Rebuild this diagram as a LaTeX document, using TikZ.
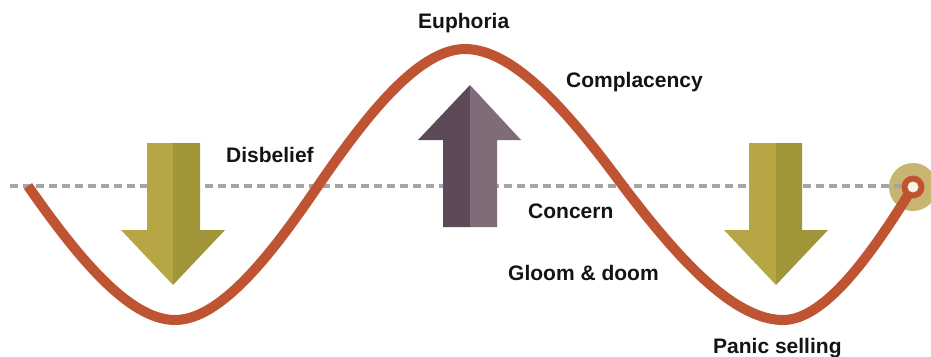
\documentclass[tikz,border=0pt]{standalone}
\usepackage{fontspec}
\setmainfont{Liberation Sans}
\begin{document}
\begin{tikzpicture}[x=1pt,y=-1pt,
  lbl/.style={anchor=base west,inner sep=0pt,font=\fontsize{21}{24}\selectfont\bfseries,text=txt},
  wave/.style={draw=wavec,line width=10pt},
  baseline/.style={draw=dashc,line width=4pt,dash pattern=on 8pt off 5pt}]
\definecolor{wavec}{RGB}{191,84,50}
\definecolor{dashc}{RGB}{165,165,168}
\definecolor{txt}{RGB}{20,20,20}
\definecolor{olivel}{RGB}{182,167,68}
\definecolor{olived}{RGB}{161,149,57}
\definecolor{purpd}{RGB}{93,74,89}
\definecolor{purpl}{RGB}{128,108,120}
\definecolor{tan}{RGB}{200,182,112}
\definecolor{cream}{RGB}{252,244,230}
\useasboundingbox (0,0) rectangle (931,356);
\fill[white] (0,0) rectangle (931,356);
% end marker background
\node[circle,fill=tan,minimum size=48pt,inner sep=0pt] (endo) at (913,187) {};
% dashed baseline
\coordinate (dl) at (10,186);
\coordinate (dr) at (905,186);
\draw[baseline] (dl) -- (dr);
% left down arrow
\fill[olivel] (147,143) -- (173,143) -- (173,285) -- (121,230) -- (147,230) -- cycle;
\fill[olived] (173,143) -- (200,143) -- (200,230) -- (225,230) -- (173,285) -- cycle;
% right down arrow
\fill[olivel] (749,143) -- (776,143) -- (776,285) -- (724,230) -- (749,230) -- cycle;
\fill[olived] (776,143) -- (802,143) -- (802,230) -- (828,230) -- (776,285) -- cycle;
% middle up arrow
\fill[purpd] (443,227) -- (470,227) -- (470,85) -- (418,140) -- (443,140) -- cycle;
\fill[purpl] (470,227) -- (497,227) -- (497,140) -- (521,140) -- (470,85) -- cycle;
% wave
\coordinate (w0) at (28,186);
\coordinate (w1) at (175,320);
\coordinate (w2) at (318,186);
\coordinate (w3) at (465,49);
\coordinate (w4) at (623,186);
\coordinate (w5) at (783,320);
\coordinate (w6) at (913,187);
\draw[wave] (w0) .. controls (75.9,254.6) and (128.2,320) .. (w1)
  .. controls (220.5,320) and (271.4,254.6) .. (w2)
  .. controls (365.9,116.3) and (418.2,49) .. (w3)
  .. controls (515.3,49) and (571.5,116.3) .. (w4)
  .. controls (675.2,254.6) and (732.1,320) .. (w5)
  .. controls (824.7,320) and (871.3,255) .. (w6);
\node[circle,fill=wavec,minimum size=23pt,inner sep=0pt] (endr) at (w6) {};
\node[circle,fill=cream,minimum size=11pt,inner sep=0pt] (endw) at (w6) {};
% labels
\node[lbl] (euph) at (418,28) {Euphoria};
\node[lbl] (comp) at (566,87) {Complacency};
\node[lbl] (disb) at (226,162) {Disbelief};
\node[lbl] (conc) at (528,218) {Concern};
\node[lbl] (gloo) at (508,280) {Gloom \& doom};
\node[lbl] (pani) at (713,353) {Panic selling};
\end{tikzpicture}
\end{document}
